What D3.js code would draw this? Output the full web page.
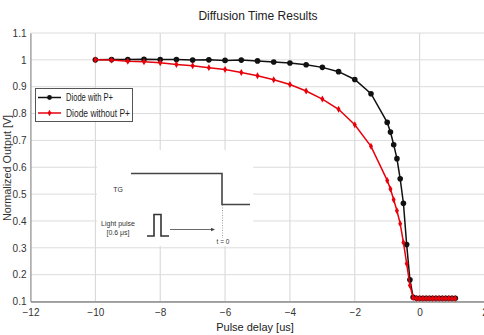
<!DOCTYPE html>
<html><head><meta charset="utf-8">
<script src="https://cdn.jsdelivr.net/npm/d3@7"></script>
<style>
html,body{margin:0;padding:0;background:#fff;}
svg{display:block;font-family:"Liberation Sans",Arial,sans-serif;}
</style></head>
<body>
<svg id="chart" width="484" height="335"></svg>
<script>
const delay = [-10,-9.5,-9,-8.5,-8,-7.5,-7,-6.5,-6,-5.5,-5,-4.5,-4,-3.5,-3,-2.5,-2,-1.5,
  -1,-0.9,-0.8,-0.7,-0.6,-0.5,-0.4,-0.3,-0.2,-0.1,0,0.1,0.2,0.3,0.4,0.5,0.6,0.7,0.8,0.9,1.0,1.1];
const withP = [1.0,1.001,1.001,1.002,1.001,1.001,0.999,1.0,0.998,0.999,0.996,0.992,0.988,0.982,0.972,0.956,0.927,0.874,
  0.767,0.731,0.684,0.632,0.557,0.466,0.312,0.181,0.116,0.112,0.112,0.112,0.112,0.112,0.112,0.112,0.112,0.112,0.112,0.112,0.112,0.112];
const withoutP = [1.0,0.999,0.995,0.993,0.989,0.983,0.978,0.971,0.964,0.953,0.941,0.926,0.908,0.884,0.854,0.816,0.758,0.678,
  0.551,0.519,0.479,0.438,0.39,0.32,0.241,0.16,0.114,0.111,0.111,0.111,0.111,0.111,0.111,0.111,0.111,0.111,0.111,0.111,0.111,0.111];
const seriesNames = ["Diode with P+","Diode without P+"];
const xTicks = [-12,-10,-8,-6,-4,-2,0,2];
const yTicks = [0.1,0.2,0.3,0.4,0.5,0.6,0.7,0.8,0.9,1.0,1.1];
const title = "Diffusion Time Results";
const xLabel = "Pulse delay [us]";
const yLabel = "Normalized Output [V]";

const svg = d3.select("#chart");
const x = d3.scaleLinear().domain([-12,2]).range([30.5,484.5]);
const y = d3.scaleLinear().domain([0.1,1.1]).range([301.5,33]);
const fmtX = d => d < 0 ? "\u2212" + Math.abs(d) : String(d);
const fmtY = d => d3.format("")(+d.toFixed(1));

// grid
const grid = svg.append("g");
grid.selectAll("line.v").data(xTicks).join("line")
  .attr("x1", d=>x(d)).attr("x2", d=>x(d)).attr("y1", y(1.1)).attr("y2", y(0.1))
  .attr("stroke","#d4d4d4").attr("stroke-width",1);
grid.selectAll("line.h").data(yTicks).join("line")
  .attr("x1", x(-12)).attr("x2", 484).attr("y1", d=>y(d)).attr("y2", d=>y(d))
  .attr("stroke","#dcdcdc").attr("stroke-width",1);

// axes
const xAxis = svg.append("g").attr("transform",`translate(0,${y(0.1)})`)
  .call(d3.axisBottom(x).tickValues(xTicks).tickFormat(fmtX).tickSize(0).tickPadding(7));
xAxis.select(".domain").attr("stroke","#8a8a8a").attr("stroke-width",1.3);
xAxis.selectAll("text").attr("font-size",10).attr("fill","#333").attr("font-family","Liberation Sans, Arial, sans-serif");
const yAxis = svg.append("g").attr("transform",`translate(${x(-12)},0)`)
  .call(d3.axisLeft(y).tickValues(yTicks).tickFormat(fmtY).tickSize(0).tickPadding(4));
yAxis.select(".domain").attr("stroke","#8a8a8a").attr("stroke-width",1);
yAxis.selectAll("text").attr("font-size",10).attr("fill","#333").attr("font-family","Liberation Sans, Arial, sans-serif");

// inset diagram (white box over grid)
const ins = svg.append("g");
ins.append("rect").attr("x",97).attr("y",150).attr("width",156).attr("height",96).attr("fill","#fff");
const ip = d3.line();
ins.append("path").attr("d", ip([[131,173.5],[222,173.5],[222,204.5],[250,204.5]]))
  .attr("fill","none").attr("stroke","#444").attr("stroke-width",1.6);
ins.append("path").attr("d", ip([[147,236],[154,236],[154,214.5],[161,214.5],[161,236],[169,236]]))
  .attr("fill","none").attr("stroke","#333").attr("stroke-width",1.6);
ins.append("line").attr("x1",170).attr("x2",213).attr("y1",229.5).attr("y2",229.5).attr("stroke","#444").attr("stroke-width",0.8);
ins.append("path").attr("d","M215,229.5 L211,227.8 L211,231.2 Z").attr("fill","#444");
ins.append("line").attr("x1",222.5).attr("x2",222.5).attr("y1",205).attr("y2",238)
  .attr("stroke","#888").attr("stroke-width",0.8).attr("stroke-dasharray","1,1.5");
ins.append("text").attr("x",118).attr("y",192).attr("text-anchor","middle").attr("font-size",7).attr("fill","#333").text("TG");
ins.append("text").attr("x",118).attr("y",226).attr("text-anchor","middle").attr("font-size",7).attr("fill","#333").text("Light pulse");
ins.append("text").attr("x",118).attr("y",235).attr("text-anchor","middle").attr("font-size",7).attr("fill","#333").text("[0.6 \u03bcs]");
ins.append("text").attr("x",223).attr("y",243.5).attr("text-anchor","middle").attr("font-size",6.5).attr("fill","#333").text("t = 0");

// series
const line = d3.line().x((d,i)=>x(delay[i])).y(d=>y(d));
const colors = ["#111","#e8000b"];
[withP, withoutP].forEach((vals, k) => {
  svg.append("path").datum(vals).attr("d", line).attr("fill","none")
    .attr("stroke", colors[k]).attr("stroke-width",1.5);
  if (k === 0) {
    svg.append("g").selectAll("circle").data(vals).join("circle")
      .attr("cx",(d,i)=>x(delay[i])).attr("cy",d=>y(d)).attr("r",2.8).attr("fill",colors[k]);
  } else {
    svg.append("g").selectAll("path").data(vals).join("path")
      .attr("d", d3.symbol(d3.symbolDiamond, 14)())
      .attr("transform",(d,i)=>`translate(${x(delay[i])},${y(d)})`).attr("fill",colors[k]);
  }
});

// legend
const lg = svg.append("g");
lg.append("rect").attr("x",35.5).attr("y",88.5).attr("width",97).attr("height",33)
  .attr("fill","#fff").attr("stroke","#555").attr("stroke-width",1);
const lgLen = [47, 64];
seriesNames.forEach((name,k)=>{
  const yy = 97.5 + k*15.5;
  lg.append("line").attr("x1",38).attr("x2",61).attr("y1",yy).attr("y2",yy).attr("stroke",colors[k]).attr("stroke-width",1.5);
  if (k===0) lg.append("circle").attr("cx",49.5).attr("cy",yy).attr("r",2.4).attr("fill",colors[k]);
  else lg.append("path").attr("d", d3.symbol(d3.symbolDiamond, 12)()).attr("transform",`translate(49.5,${yy})`).attr("fill",colors[k]);
  lg.append("text").attr("x",66).attr("y",yy+3.5).attr("font-size",10).attr("fill","#222")
    .attr("textLength", lgLen[k]).attr("lengthAdjust","spacingAndGlyphs").text(name);
});

// titles
svg.append("text").attr("x",258).attr("y",20).attr("text-anchor","middle").attr("font-size",12).attr("fill","#222").text(title);
svg.append("text").attr("x",255).attr("y",331).attr("text-anchor","middle").attr("font-size",11).attr("fill","#222").text(xLabel);
svg.append("text").attr("transform","translate(11,168) rotate(-90)").attr("text-anchor","middle").attr("font-size",10.8).attr("fill","#333").text(yLabel);
</script>
</body></html>
